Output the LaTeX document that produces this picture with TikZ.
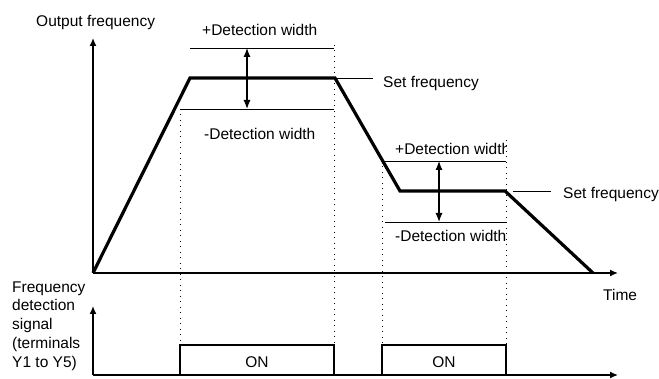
\documentclass[tikz,border=0pt]{standalone}
\usepackage{fontspec}
\setmainfont{Liberation Sans}
\usetikzlibrary{arrows.meta}
\begin{document}
\begin{tikzpicture}[x=1pt,y=-1pt,
  lbl/.style={inner sep=0pt,font=\fontsize{15.5}{19}\selectfont},
  axis/.style={line width=1.4pt,-{Latex[length=8pt,width=7pt]}},
  profile/.style={line width=3.2pt,line join=miter},
  onbox/.style={line width=2.8pt},
  detline/.style={line width=0.9pt},
  dots/.style={line width=1pt,dash pattern=on 1pt off 4.5pt},
  dbl/.style={line width=1.2pt,{Latex[length=9pt,width=7pt]}-{Latex[length=9pt,width=7pt]}}]
\useasboundingbox (0,0) rectangle (659,379);
% coordinates
\coordinate (O) at (93,273);
\coordinate (Ytop) at (93,38);
\coordinate (Xend) at (618,273);
\coordinate (p1) at (190,78);
\coordinate (p2) at (335,78);
\coordinate (p3) at (400,191);
\coordinate (p4) at (505,191);
\coordinate (p5) at (593,273);
\coordinate (B) at (93,375);
\coordinate (Btop) at (93,306);
\coordinate (Bend) at (618,375);
% dotted lines
\draw[dots] (180,109) -- (180,345);
\draw[dots] (334,45) -- (334,345);
\draw[dots] (382,161) -- (382,345);
\draw[dots] (506,140) -- (506,345);
% axes
\draw[axis] (O) -- (Ytop);
\draw[axis] (O) -- (Xend);
\draw[axis] (B) -- (Btop);
\draw[axis] (B) -- (Bend);
% profile
\draw[profile] (O) -- (p1) -- (p2) -- (p3) -- (p4) -- (p5);
% detection lines
\coordinate (d1a) at (190,48); \coordinate (d1b) at (334,48);
\coordinate (d2a) at (180,109); \coordinate (d2b) at (334,109);
\coordinate (d3a) at (383,161); \coordinate (d3b) at (506,161);
\coordinate (d4a) at (385,222); \coordinate (d4b) at (506,222);
\draw[detline] (d1a) -- (d1b);
\draw[detline] (d2a) -- (d2b);
\draw[detline] (d3a) -- (d3b);
\draw[detline] (d4a) -- (d4b);
\coordinate (a1t) at (247,48); \coordinate (a1b) at (247,109);
\coordinate (a2t) at (439,161); \coordinate (a2b) at (439,222);
\draw[dbl] (a1t) -- (a1b);
\draw[dbl] (a2t) -- (a2b);
% set frequency leaders
\coordinate (s1a) at (334,78); \coordinate (s1b) at (373,78);
\coordinate (s2a) at (513,191); \coordinate (s2b) at (551,191);
\draw[detline] (s1a) -- (s1b);
\draw[detline] (s2a) -- (s2b);
% ON boxes
\draw[onbox] (180,375) -- (180,345) -- (334,345) -- (334,375);
\draw[onbox] (382,375) -- (382,345) -- (506,345) -- (506,375);
% labels
\node[lbl,anchor=base west] (of) at (36,27) {Output frequency};
\node[lbl,anchor=base west] (pd1) at (202,36) {+Detection width};
\node[lbl,anchor=base west] (md1) at (204,140) {-Detection width};
\node[lbl,anchor=base west] (sf1) at (383,88) {Set frequency};
\begin{scope}
\clip (380,100) rectangle (506,260);
\node[lbl,anchor=base west] (pd2) at (395,155) {+Detection width};
\node[lbl,anchor=base west] (md2) at (395,242) {-Detection width};
\end{scope}
\node[lbl,anchor=base west] (sf2) at (563,199) {Set frequency};
\node[lbl,anchor=base west] (tm) at (603,301) {Time};
\node[lbl,anchor=base] (on1) at (257,368) {ON};
\node[lbl,anchor=base] (on2) at (444,368) {ON};
\node[lbl,anchor=base west,align=left] (fds) at (12,368) {Frequency\\detection\\signal\\(terminals\\Y1 to Y5)};
\end{tikzpicture}
\end{document}
